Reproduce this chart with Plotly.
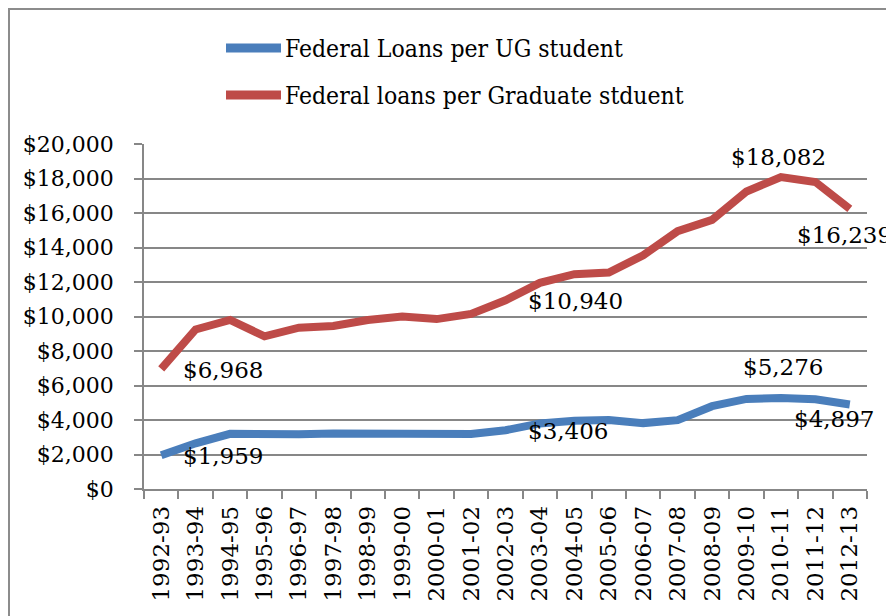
import plotly.graph_objects as go

years = ["1992-93", "1993-94", "1994-95", "1995-96", "1996-97", "1997-98", "1998-99",
         "1999-00", "2000-01", "2001-02", "2002-03", "2003-04", "2004-05", "2005-06",
         "2006-07", "2007-08", "2008-09", "2009-10", "2010-11", "2011-12", "2012-13"]
ug_loans = [1959, 2650, 3200, 3150, 3180, 3220, 3220, 3200, 3170, 3190, 3406,
            3800, 3950, 4000, 3820, 3990, 4800, 5220, 5276, 5200, 4897]
grad_loans = [6968, 9250, 9800, 8850, 9350, 9450, 9800, 10000, 9850, 10150, 10940,
              11950, 12450, 12550, 13550, 14950, 15600, 17250, 18082, 17800, 16239]
ug_name = "Federal Loans per UG student"
grad_name = "Federal loans per Graduate stduent"
y_ticks = list(range(0, 20001, 2000))

BLUE = "#4A7EBB"
RED = "#BE4B48"
GRID = "#878787"
SERIF = "DejaVu Serif, Liberation Serif, serif"
COND = "DejaVu Serif Condensed, DejaVu Serif, serif"

fig = go.Figure()
fig.add_trace(go.Scatter(x=years, y=ug_loans, mode="lines", name=ug_name,
                         line=dict(color=BLUE, width=8), showlegend=False))
fig.add_trace(go.Scatter(x=years, y=grad_loans, mode="lines", name=grad_name,
                         line=dict(color=RED, width=8), showlegend=False))

# data labels (index, series, xanchor, xshift, yshift)
labels = [
    (0, grad_loans, "left", 20, -1),
    (0, ug_loans, "left", 20, -1),
    (10, grad_loans, "left", 20, -1),
    (10, ug_loans, "left", 20, -1),
    (18, grad_loans, "center", -2, 20),
    (18, ug_loans, "center", 2, 31),
    (20, grad_loans, "left", -55, -26),
    (20, ug_loans, "left", -58, -14),
]
for i, series, xa, xs, ys in labels:
    fig.add_annotation(x=years[i], y=series[i], text=f"${series[i]:,}", showarrow=False,
                       xanchor=xa, yanchor="middle", xshift=xs, yshift=ys,
                       font=dict(family=SERIF, size=23, color="#000"))

# legend drawn manually
PL, PR, PT, PB = 144, 867, 144, 489
W, H = PR - PL, PB - PT
def px(x):
    return (x - PL) / W
def py(y):
    return (PB - y) / H

for name, color, yy in [(ug_name, BLUE, 48), (grad_name, RED, 95)]:
    fig.add_shape(type="line", xref="paper", yref="paper", x0=px(226), x1=px(281),
                  y0=py(yy), y1=py(yy), line=dict(color=color, width=9))
    fig.add_annotation(xref="paper", yref="paper", x=px(283), y=py(yy), text=name,
                       showarrow=False, xanchor="left", yanchor="middle",
                       font=dict(family=COND, size=24.5, color="#000"))

# outer chart frame
fig.add_shape(type="rect", xref="paper", yref="paper", x0=px(9), x1=px(900),
              y0=py(640), y1=py(9), line=dict(color="#8c8c8c", width=2), layer="below")

fig.update_layout(
    width=886, height=616,
    margin=dict(l=PL, r=886 - PR, t=PT, b=616 - PB),
    paper_bgcolor="white", plot_bgcolor="white",
    showlegend=False,
)
fig.update_xaxes(type="category", range=[-0.5, 20.5], tickangle=-90,
                 showline=True, linecolor=GRID, linewidth=1.5,
                 ticks="outside", tickson="boundaries", ticklen=8, tickcolor=GRID, tickwidth=1.5,
                 showgrid=False, ticklabelstandoff=6,
                 tickfont=dict(family=SERIF, size=23, color="#000"))
fig.update_yaxes(range=[0, 20000], tickvals=y_ticks,
                 ticktext=[f"${v:,}" for v in y_ticks],
                 showline=True, linecolor=GRID, linewidth=1.5,
                 ticks="outside", ticklen=8, tickcolor=GRID, tickwidth=1.5,
                 showgrid=True, gridcolor=GRID, gridwidth=1.5, zeroline=False,
                 ticklabelstandoff=16,
                 tickfont=dict(family=SERIF, size=22, color="#000"))

fig.write_html("out.html")
